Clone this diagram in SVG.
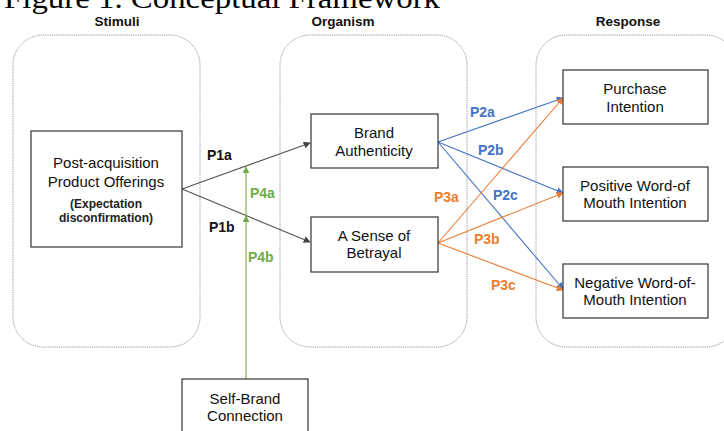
<svg xmlns="http://www.w3.org/2000/svg" width="724" height="431" viewBox="0 0 724 431">
<style>
.panel{fill:none;stroke:#8d94a3;stroke-width:1;stroke-dasharray:1.2 1}
.box{fill:#fff;stroke:#333;stroke-width:1.2}
.t{font-family:"Liberation Sans",Arial,sans-serif;font-size:15px;fill:#111;text-anchor:middle}
.s{font-family:"Liberation Sans",Arial,sans-serif;font-size:12px;font-weight:bold;fill:#222;text-anchor:middle}
.h{font-family:"Liberation Sans",Arial,sans-serif;font-size:13.5px;font-weight:bold;fill:#111;text-anchor:middle}
.l{font-family:"Liberation Sans",Arial,sans-serif;font-size:14px;font-weight:bold}
.title{font-family:"Liberation Serif","Times New Roman",serif;font-size:30px;fill:#000}
.c{fill:none;stroke-width:1.1}
</style>
<defs>
<marker id="ag" viewBox="0 0 10 10" refX="9" refY="5" markerWidth="7" markerHeight="7" orient="auto" markerUnits="userSpaceOnUse"><path d="M0,0 L10,5 L0,10 z" fill="#444"/></marker>
<marker id="ab" viewBox="0 0 10 10" refX="9" refY="5" markerWidth="7" markerHeight="7" orient="auto" markerUnits="userSpaceOnUse"><path d="M0,0 L10,5 L0,10 z" fill="#4472C4"/></marker>
<marker id="ao" viewBox="0 0 10 10" refX="9" refY="5" markerWidth="7" markerHeight="7" orient="auto" markerUnits="userSpaceOnUse"><path d="M0,0 L10,5 L0,10 z" fill="#ED7D31"/></marker>
<marker id="an" viewBox="0 0 10 10" refX="9" refY="5" markerWidth="7" markerHeight="7" orient="auto" markerUnits="userSpaceOnUse"><path d="M0,0 L10,5 L0,10 z" fill="#70AD47"/></marker>
</defs>
<rect width="724" height="431" fill="#fff"/>
<text class="title" x="4" y="8" textLength="436" lengthAdjust="spacingAndGlyphs">Figure 1.  Conceptual Framework</text>
<text class="h" x="117" y="26">Stimuli</text>
<text class="h" x="343" y="26">Organism</text>
<text class="h" x="628" y="26">Response</text>
<g id="panels">
<rect class="panel" x="13" y="35" width="187" height="312" rx="30"/>
<rect class="panel" x="280" y="35" width="187" height="312" rx="30"/>
<rect class="panel" x="536" y="35" width="200" height="312" rx="30"/>
</g>
<g id="connectors">
<line class="c" stroke="#555" x1="182" y1="189" x2="310" y2="143" marker-end="url(#ag)"/>
<line class="c" stroke="#555" x1="182" y1="189" x2="310" y2="242" marker-end="url(#ag)"/>
<line class="c" stroke="#70AD47" stroke-width="1.6" x1="246" y1="379" x2="246" y2="216" marker-end="url(#an)"/>
<line class="c" stroke="#70AD47" stroke-width="1.6" x1="246" y1="216" x2="246" y2="167" marker-end="url(#an)"/>
<line class="c" stroke="#4472C4" x1="438" y1="142" x2="563" y2="98" marker-end="url(#ab)"/>
<line class="c" stroke="#4472C4" x1="438" y1="142" x2="563" y2="193" marker-end="url(#ab)"/>
<line class="c" stroke="#4472C4" x1="438" y1="142" x2="563" y2="289" marker-end="url(#ab)"/>
<line class="c" stroke="#ED7D31" x1="438" y1="243" x2="563" y2="98" marker-end="url(#ao)"/>
<line class="c" stroke="#ED7D31" x1="438" y1="243" x2="563" y2="193" marker-end="url(#ao)"/>
<line class="c" stroke="#ED7D31" x1="438" y1="243" x2="563" y2="290" marker-end="url(#ao)"/>
<text class="l" x="207" y="160" fill="#111">P1a</text>
<text class="l" x="209" y="232" fill="#111">P1b</text>
<text class="l" x="250" y="198" fill="#70AD47">P4a</text>
<text class="l" x="248" y="262" fill="#70AD47">P4b</text>
<text class="l" x="470" y="117" fill="#4472C4">P2a</text>
<text class="l" x="478" y="155" fill="#4472C4">P2b</text>
<text class="l" x="493" y="200" fill="#4472C4">P2c</text>
<text class="l" x="434" y="202" fill="#ED7D31">P3a</text>
<text class="l" x="474" y="244" fill="#ED7D31">P3b</text>
<text class="l" x="491" y="290" fill="#ED7D31">P3c</text>
</g>
<g id="post-acquisition">
<rect class="box" x="31" y="131" width="151" height="116"/>
<text class="t" x="106" y="168">Post-acquisition</text>
<text class="t" x="106" y="187">Product Offerings</text>
<text class="s" x="106" y="208">(Expectation</text>
<text class="s" x="106" y="222">disconfirmation)</text>
</g>
<g id="brand-authenticity">
<rect class="box" x="311" y="114" width="127" height="54"/>
<text class="t" x="374" y="138">Brand</text>
<text class="t" x="374" y="156">Authenticity</text>
</g>
<g id="betrayal">
<rect class="box" x="311" y="217" width="127" height="55"/>
<text class="t" x="374" y="241">A Sense of</text>
<text class="t" x="374" y="258">Betrayal</text>
</g>
<g id="purchase">
<rect class="box" x="563" y="70" width="145" height="54"/>
<text class="t" x="635" y="94">Purchase</text>
<text class="t" x="635" y="112">Intention</text>
</g>
<g id="positive-wom">
<rect class="box" x="563" y="167" width="145" height="54"/>
<text class="t" x="635" y="191">Positive Word-of</text>
<text class="t" x="635" y="208">Mouth Intention</text>
</g>
<g id="negative-wom">
<rect class="box" x="563" y="264" width="145" height="54"/>
<text class="t" x="635" y="288">Negative Word-of-</text>
<text class="t" x="635" y="305">Mouth Intention</text>
</g>
<g id="self-brand">
<rect class="box" x="182" y="379" width="126" height="60"/>
<text class="t" x="245" y="404">Self-Brand</text>
<text class="t" x="245" y="421">Connection</text>
</g>
</svg>
